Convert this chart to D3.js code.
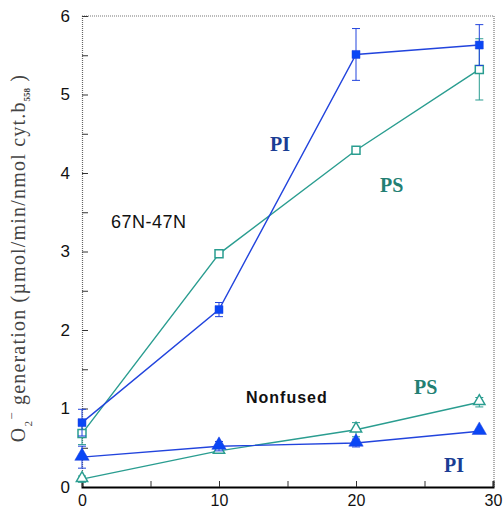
<!DOCTYPE html>
<html>
<head>
<meta charset="utf-8">
<script src="https://cdn.jsdelivr.net/npm/d3@7"></script>
<style>
  body { margin: 0; background: #fff; }
  svg { display: block; }
</style>
</head>
<body>
<svg id="chart" width="503" height="513"></svg>
<script>
(function () {
    var xTicks = [0, 10, 20, 30];
    var yTicks = [0, 1, 2, 3, 4, 5, 6];

    var times = [0, 10, 20, 29];
    // fused 67N-47N
    var fusedPI = [0.82, 2.26, 5.51, 5.63];
    var fusedPIerr = [0.17, 0.09, 0.33, 0.26];
    var fusedPS = [0.68, 2.97, 4.29, 5.32];
    var fusedPSerr = [0.14, 0.03, 0.04, 0.39];
    // nonfused
    var nonPI = [0.38, 0.52, 0.56, 0.71];
    var nonPIerr = [0.14, 0.06, 0.05, 0.02];
    var nonPS = [0.10, 0.46, 0.73, 1.08];
    var nonPSerr = [0.04, 0.03, 0.09, 0.06];

    var blue = '#2244dd';
    var blueFill = '#0a46f5';
    var teal = '#2a9d90';

    var svg = d3.select('#chart');
    var left = 82, right = 494, top = 16, bottom = 487;

    var x = d3.scaleLinear().domain([0, 30]).range([left, right - 1]);
    var y = d3.scaleLinear().domain([0, 6]).range([bottom, top]);

    // frame: top/right dotted grey
    svg.append('path')
        .attr('d', 'M' + left + ',' + top + 'H' + right + 'V' + bottom)
        .attr('fill', 'none')
        .attr('stroke', '#777')
        .attr('stroke-width', 1.2)
        .attr('stroke-dasharray', '1,1');

    var yAxis = d3.axisLeft(y)
        .tickValues(d3.range(0, 6.01, 0.5))
        .tickSize(-6)
        .tickFormat(function (d) { return yTicks.indexOf(d) >= 0 ? d : ''; });
    var gy = svg.append('g')
        .attr('transform', 'translate(' + left + ',0)')
        .call(yAxis);
    gy.select('.domain').attr('stroke', '#666').attr('stroke-dasharray', '1,1').attr('stroke-width', 1.2);
    gy.selectAll('.tick line').attr('stroke', '#333');
    gy.selectAll('.tick text')
        .attr('x', -12)
        .style('font-family', 'Liberation Sans, Arial, sans-serif')
        .style('font-size', '17px')
        .attr('fill', '#111');

    var xAxis = d3.axisBottom(x)
        .tickValues(d3.range(0, 30.01, 5))
        .tickSize(-6)
        .tickFormat(function (d) { return xTicks.indexOf(d) >= 0 ? d : ''; });
    var gx = svg.append('g')
        .attr('transform', 'translate(0,' + bottom + ')')
        .call(xAxis);
    gx.select('.domain').attr('stroke', '#000').attr('stroke-width', 2);
    gx.selectAll('.tick line').attr('stroke', '#333');
    gx.selectAll('.tick text')
        .attr('y', 8)
        .style('font-family', 'Liberation Sans, Arial, sans-serif')
        .style('font-size', '16px')
        .attr('fill', '#111');

    function series(vals, errs, color, shape, filled) {
        var pts = times.map(function (t, i) { return { t: t, v: vals[i], e: errs[i] }; });
        var g = svg.append('g');
        g.append('path')
            .datum(pts)
            .attr('fill', 'none')
            .attr('stroke', color)
            .attr('stroke-width', 1.4)
            .attr('d', d3.line().x(function (d) { return x(d.t); }).y(function (d) { return y(d.v); }));
        var eb = g.selectAll('.err').data(pts).enter().append('g')
            .attr('stroke', color).attr('stroke-width', 1);
        eb.append('line')
            .attr('x1', function (d) { return x(d.t); })
            .attr('x2', function (d) { return x(d.t); })
            .attr('y1', function (d) { return y(d.v - d.e); })
            .attr('y2', function (d) { return y(d.v + d.e); });
        [-1, 1].forEach(function (s) {
            eb.append('line')
                .attr('x1', function (d) { return x(d.t) - 4; })
                .attr('x2', function (d) { return x(d.t) + 4; })
                .attr('y1', function (d) { return y(d.v + s * d.e); })
                .attr('y2', function (d) { return y(d.v + s * d.e); });
        });
        var size = shape === 'square' ? 64 : (filled ? 90 : 55);
        var sym = d3.symbol().type(shape === 'square' ? d3.symbolSquare : d3.symbolTriangle).size(size);
        g.selectAll('.pt').data(pts).enter().append('path')
            .attr('transform', function (d) { return 'translate(' + x(d.t) + ',' + (y(d.v) + (shape === 'square' ? 0 : -1)) + ')'; })
            .attr('d', sym)
            .attr('fill', filled ? blueFill : '#fff')
            .attr('stroke', color)
            .attr('stroke-width', filled ? 0.5 : 1.5);
    }

    series(nonPS, nonPSerr, teal, 'triangle', false);
    series(nonPI, nonPIerr, blue, 'triangle', true);
    series(fusedPS, fusedPSerr, teal, 'square', false);
    series(fusedPI, fusedPIerr, blue, 'square', true);

    function label(txt, px, py, color, font, size, weight, spacing) {
        svg.append('text')
            .attr('x', px).attr('y', py)
            .attr('fill', color)
            .style('font-family', font)
            .style('font-size', size + 'px')
            .style('font-weight', weight)
            .style('letter-spacing', (spacing || 0) + 'px')
            .text(txt);
    }
    var serif = 'Liberation Serif, Times New Roman, serif';
    var sans = 'Liberation Sans, Arial, sans-serif';
    label('PI', 270, 151, '#1a3d94', serif, 20, 'bold');
    label('PS', 380, 192, '#237f73', serif, 20, 'bold');
    label('PS', 414, 394, '#237f73', serif, 20, 'bold');
    label('PI', 444, 472, '#1a3d94', serif, 20, 'bold');
    label('67N-47N', 111, 228, '#111', sans, 18, 'normal', 0.5);
    label('Nonfused', 246, 403, '#111', sans, 16, 'bold', 1);

    // y axis title
    var yt = svg.append('text')
        .attr('transform', 'translate(25,' + 258 + ') rotate(-90)')
        .attr('text-anchor', 'middle')
        .attr('fill', '#444')
        .style('font-family', serif)
        .style('font-size', '20px')
        .style('letter-spacing', '1.2px');
    yt.append('tspan').text('O');
    yt.append('tspan').attr('dy', 7).style('font-size', '11px').text('2');
    yt.append('tspan').attr('dy', -16).style('font-size', '13px').text('\u2212');
    yt.append('tspan').attr('dy', 9).text(' generation (\u00b5mol/min/nmol cyt.b');
    yt.append('tspan').attr('dy', 5).style('font-size', '9px').style('font-weight', 'bold').style('letter-spacing', '0px').text('558');
    yt.append('tspan').attr('dy', -5).text('  )');
}());
</script>
</body>
</html>
